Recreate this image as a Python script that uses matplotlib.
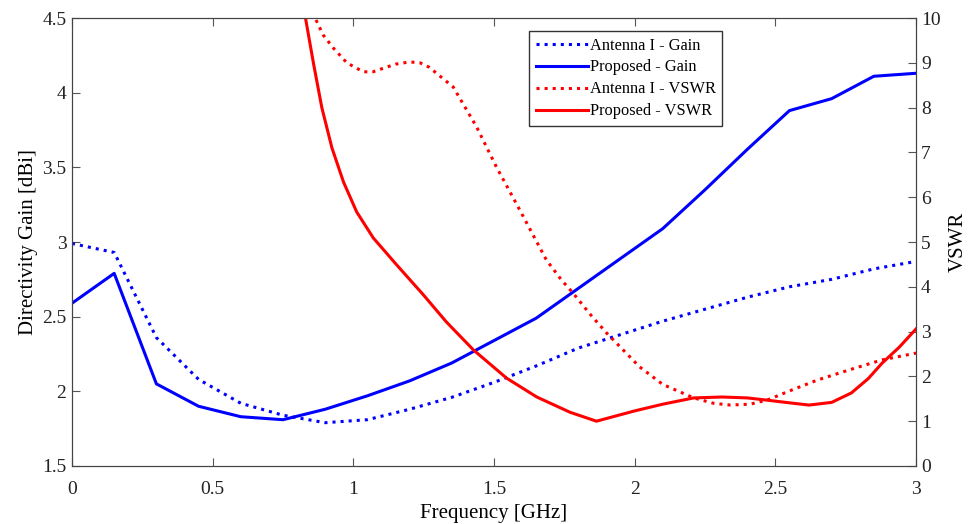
import numpy as np
import matplotlib.pyplot as plt

plt.rcParams['font.family'] = ['Liberation Serif', 'DejaVu Serif']

# gain data (dBi), sampled every 0.15 GHz
freq_gain = [0, 0.15, 0.3, 0.45, 0.6, 0.75, 0.9, 1.05, 1.2, 1.35, 1.5,
             1.65, 1.8, 1.95, 2.1, 2.25, 2.4, 2.55, 2.7, 2.85, 3.0]
gain_ant1 = [2.99, 2.93, 2.36, 2.08, 1.92, 1.84, 1.79, 1.81, 1.88, 1.96, 2.06,
             2.17, 2.29, 2.38, 2.47, 2.55, 2.63, 2.70, 2.75, 2.82, 2.87]
gain_prop = [2.59, 2.79, 2.05, 1.90, 1.83, 1.81, 1.88, 1.97, 2.07, 2.19, 2.34,
             2.49, 2.69, 2.89, 3.09, 3.35, 3.62, 3.88, 3.96, 4.11, 4.13]

# VSWR data
freq_v1 = [0.85, 0.864, 0.893, 0.929, 0.977, 1.035, 1.07, 1.107, 1.15, 1.2,
           1.237, 1.27, 1.355, 1.438, 1.509, 1.592, 1.686, 1.74, 1.781, 1.84,
           1.9, 2.018, 2.1, 2.21, 2.28, 2.34, 2.41, 2.47, 2.56, 2.65, 2.77,
           2.88, 3.0]
vswr_ant1 = [10.3, 10.0, 9.62, 9.33, 9.0, 8.8, 8.8, 8.88, 8.97, 9.02,
             9.0, 8.9, 8.46, 7.57, 6.67, 5.71, 4.6, 4.15, 3.86, 3.4,
             2.97, 2.21, 1.82, 1.52, 1.40, 1.36, 1.38, 1.47, 1.70, 1.92, 2.16,
             2.37, 2.52]
freq_v2 = [0.81, 0.828, 0.858, 0.888, 0.924, 0.965, 1.012, 1.071, 1.154,
           1.249, 1.33, 1.427, 1.545, 1.652, 1.77, 1.864, 2.0, 2.1, 2.21,
           2.31, 2.4, 2.47, 2.55, 2.62, 2.7, 2.77, 2.83, 2.88, 2.94, 3.0]
vswr_prop = [10.55, 10.07, 9.0, 8.0, 7.1, 6.34, 5.67, 5.09, 4.49,
             3.82, 3.22, 2.59, 1.96, 1.54, 1.2, 1.0, 1.23, 1.38, 1.52,
             1.54, 1.52, 1.47, 1.41, 1.36, 1.42, 1.63, 1.95, 2.3, 2.65, 3.06]

fig = plt.figure(figsize=(9.74, 5.24), dpi=100)
ax = fig.add_axes([0.0739, 0.1107, 0.8666, 0.8549])
ax2 = ax.twinx()

l1, = ax.plot(freq_gain, gain_ant1, ':', color='blue', lw=2.2, label='Antenna I - Gain')
l2, = ax.plot(freq_gain, gain_prop, '-', color='blue', lw=2.2, label='Proposed - Gain')
l3, = ax2.plot(freq_v1, vswr_ant1, ':', color='red', lw=2.2, label='Antenna I - VSWR')
l4, = ax2.plot(freq_v2, vswr_prop, '-', color='red', lw=2.2, label='Proposed - VSWR')

ax.set_xlim(0, 3)
ax.set_ylim(1.5, 4.5)
ax2.set_ylim(0, 10)
ax.set_xticks(np.arange(0, 3.01, 0.5))
ax.set_xticklabels(['0', '0.5', '1', '1.5', '2', '2.5', '3'])
ax.set_yticks(np.arange(1.5, 4.51, 0.5))
ax.set_yticklabels(['1.5', '2', '2.5', '3', '3.5', '4', '4.5'])
ax2.set_yticks(range(0, 11))

for a in (ax, ax2):
    a.tick_params(direction='in', length=6, width=0.8, color='#555555',
                  labelsize=14, colors='#222222')
    for s in a.spines.values():
        s.set_color('#444444')
ax.tick_params(axis='x', top=True, pad=11)
ax.tick_params(axis='y', pad=4)

ax.set_xlabel('Frequency [GHz]', fontsize=15, labelpad=4)
ax.set_ylabel('Directivity Gain [dBi]', fontsize=15, labelpad=3)
ax2.set_ylabel('VSWR', fontsize=15, labelpad=6)

leg = ax.legend(handles=[l1, l2, l3, l4], loc='upper right',
                bbox_to_anchor=(0.7705, 0.971), borderaxespad=0,
                fontsize=11.8, fancybox=False,
                edgecolor='#333333', framealpha=1, borderpad=0.4,
                labelspacing=0.36, handlelength=3.2, handletextpad=0.1)
leg.get_frame().set_linewidth(1.0)

fig.savefig('out.png', dpi=100)
